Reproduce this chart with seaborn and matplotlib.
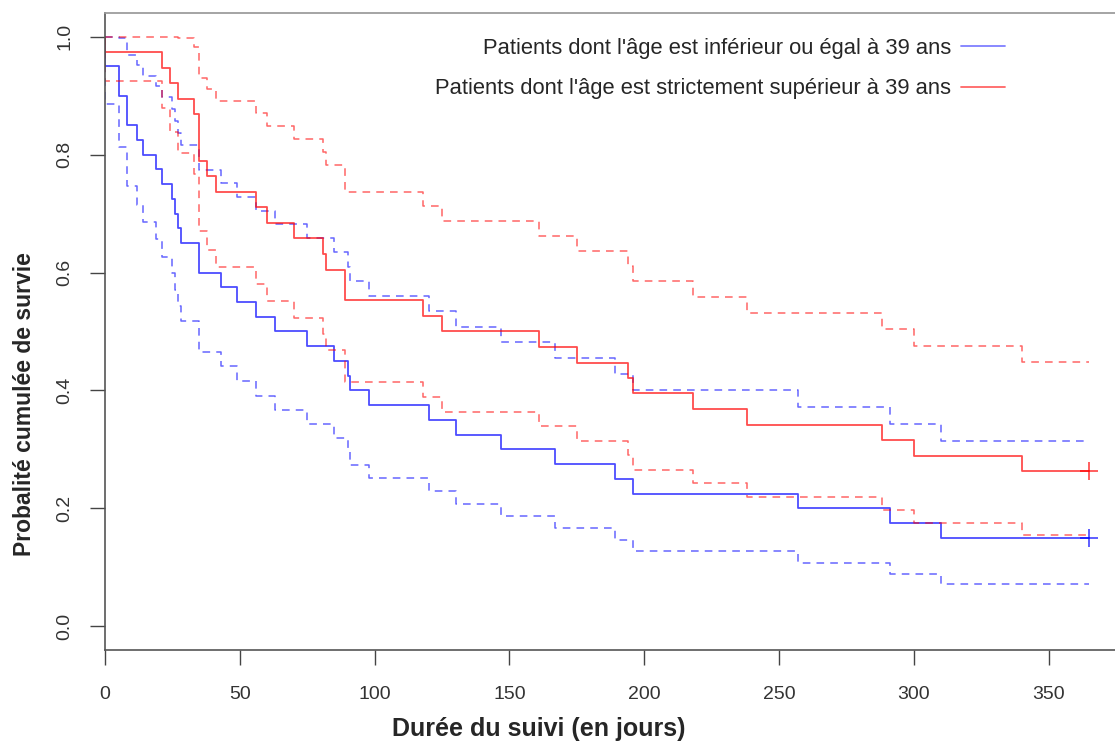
import matplotlib
matplotlib.use("Agg")
import matplotlib.pyplot as plt
import seaborn as sns
import pandas as pd
from matplotlib.lines import Line2D

# Patients dont l'âge est <= 39 ans (courbe de Kaplan-Meier + IC 95%)
jours_jeunes = [0, 5, 8, 12, 14, 19, 21, 25, 26, 27, 28, 35, 43, 49, 56, 63, 75, 85,
                90, 91, 98, 120, 130, 147, 167, 189, 196, 257, 291, 310]
survie_jeunes = [0.95, 0.90, 0.85, 0.825, 0.80, 0.775, 0.75, 0.725, 0.70, 0.675, 0.65,
                 0.60, 0.575, 0.55, 0.525, 0.50, 0.475, 0.45, 0.425, 0.40, 0.375, 0.35,
                 0.325, 0.30, 0.275, 0.25, 0.225, 0.20, 0.175, 0.15]
sup_jeunes = [1.0, 0.998, 0.968, 0.952, 0.934, 0.916, 0.897, 0.877, 0.857, 0.837, 0.816,
              0.773, 0.751, 0.728, 0.705, 0.682, 0.658, 0.634, 0.609, 0.585, 0.560, 0.534,
              0.508, 0.482, 0.455, 0.428, 0.400, 0.372, 0.343, 0.314]
inf_jeunes = [0.885, 0.812, 0.746, 0.715, 0.685, 0.656, 0.627, 0.599, 0.571, 0.544, 0.518,
              0.466, 0.441, 0.416, 0.391, 0.367, 0.343, 0.320, 0.296, 0.274, 0.251, 0.229,
              0.208, 0.187, 0.166, 0.146, 0.127, 0.108, 0.089, 0.072]

# Patients dont l'âge est > 39 ans
jours_ages = [0, 21, 24, 27, 33, 35, 38, 41, 56, 60, 70, 81, 82, 89, 118, 125, 161, 175,
              194, 196, 218, 238, 288, 300, 340]
survie_ages = [0.974, 0.947, 0.921, 0.895, 0.868, 0.789, 0.763, 0.737, 0.711, 0.684, 0.658,
               0.632, 0.605, 0.553, 0.526, 0.500, 0.474, 0.447, 0.421, 0.395, 0.368, 0.342,
               0.316, 0.289, 0.263]
sup_ages = [1.0, 1.0, 1.0, 0.998, 0.983, 0.930, 0.911, 0.891, 0.870, 0.849, 0.827, 0.805,
            0.783, 0.736, 0.712, 0.687, 0.662, 0.637, 0.611, 0.585, 0.559, 0.532, 0.504,
            0.476, 0.448]
inf_ages = [0.924, 0.879, 0.839, 0.802, 0.767, 0.670, 0.639, 0.609, 0.580, 0.551, 0.523,
            0.495, 0.468, 0.415, 0.389, 0.364, 0.339, 0.314, 0.290, 0.266, 0.243, 0.220,
            0.198, 0.176, 0.155]

fin_suivi = 365  # patients censurés à la fin du suivi

legendes = ["Patients dont l'âge est inférieur ou égal à 39 ans",
            "Patients dont l'âge est strictement supérieur à 39 ans"]


def escalier(jours, valeurs):
    # point de départ (0, 1) puis prolongation jusqu'à la fin du suivi
    x = [0] + list(jours) + [fin_suivi]
    y = [1.0] + list(valeurs) + [valeurs[-1]]
    return pd.DataFrame({"jour": x, "survie": y})


sns.set_theme(style="ticks")
plt.rcParams["font.family"] = ["Liberation Sans", "DejaVu Sans"]

fig = plt.figure(figsize=(11.15, 7.42), dpi=100)
ax = fig.add_axes([0.0942, 0.124, 0.9058, 0.8585])

groupes = [
    (jours_jeunes, survie_jeunes, sup_jeunes, inf_jeunes, "blue"),
    (jours_ages, survie_ages, sup_ages, inf_ages, "red"),
]
for jours, surv, sup, inf, couleur in groupes:
    for vals in (sup, inf):
        sns.lineplot(data=escalier(jours, vals), x="jour", y="survie", ax=ax,
                     sort=False, estimator=None, drawstyle="steps-post",
                     color=couleur, alpha=0.6, linewidth=1.1, linestyle=(0, (5, 4)))
    sns.lineplot(data=escalier(jours, surv), x="jour", y="survie", ax=ax,
                 sort=False, estimator=None, drawstyle="steps-post",
                 color=couleur, alpha=0.7, linewidth=1.3)
    # marque de censure
    sns.scatterplot(x=[fin_suivi], y=[surv[-1]], ax=ax, marker="+", s=160,
                    color=couleur, linewidth=1.1, alpha=0.8)

ax.set_xlim(0, 374.6)
ax.set_ylim(-0.04, 1.04)
ax.set_xticks(range(0, 351, 50))
ax.set_yticks([0, 0.2, 0.4, 0.6, 0.8, 1.0])
ax.set_yticklabels(["0.0", "0.2", "0.4", "0.6", "0.8", "1.0"], rotation=90, va="center")
ax.tick_params(axis="both", direction="out", length=11, width=1, color="#444444",
               labelsize=14, labelcolor="#333333")
ax.tick_params(axis="x", pad=15)
ax.tick_params(axis="y", pad=12)

for cote in ("left", "bottom"):
    ax.spines[cote].set_color("#555555")
    ax.spines[cote].set_linewidth(1.2)
ax.spines["top"].set_color("#999999")
ax.spines["right"].set_visible(False)

ax.set_xlabel("Durée du suivi (en jours)", fontsize=18, fontweight="bold")
ax.set_ylabel("Probalité cumulée de survie", fontsize=16.5, fontweight="bold")
# labels centrés comme dans l'original (pas au milieu du cadre)
ax.xaxis.set_label_coords(0.4297, -0.105)
ax.yaxis.set_label_coords(-0.068, 0.386)

poignees = [Line2D([], [], color="blue", alpha=0.5, linewidth=1.3),
            Line2D([], [], color="red", alpha=0.6, linewidth=1.3)]
ax.legend(poignees, legendes, loc="upper right", bbox_to_anchor=(1005 / 1115, 1 - 38 / 742),
          bbox_transform=fig.transFigure, frameon=False, markerfirst=False, fontsize=15.8,
          handlelength=2.0, handletextpad=0.45, labelspacing=0.88, borderpad=0,
          borderaxespad=0)

plt.savefig("out.png", dpi=100)
